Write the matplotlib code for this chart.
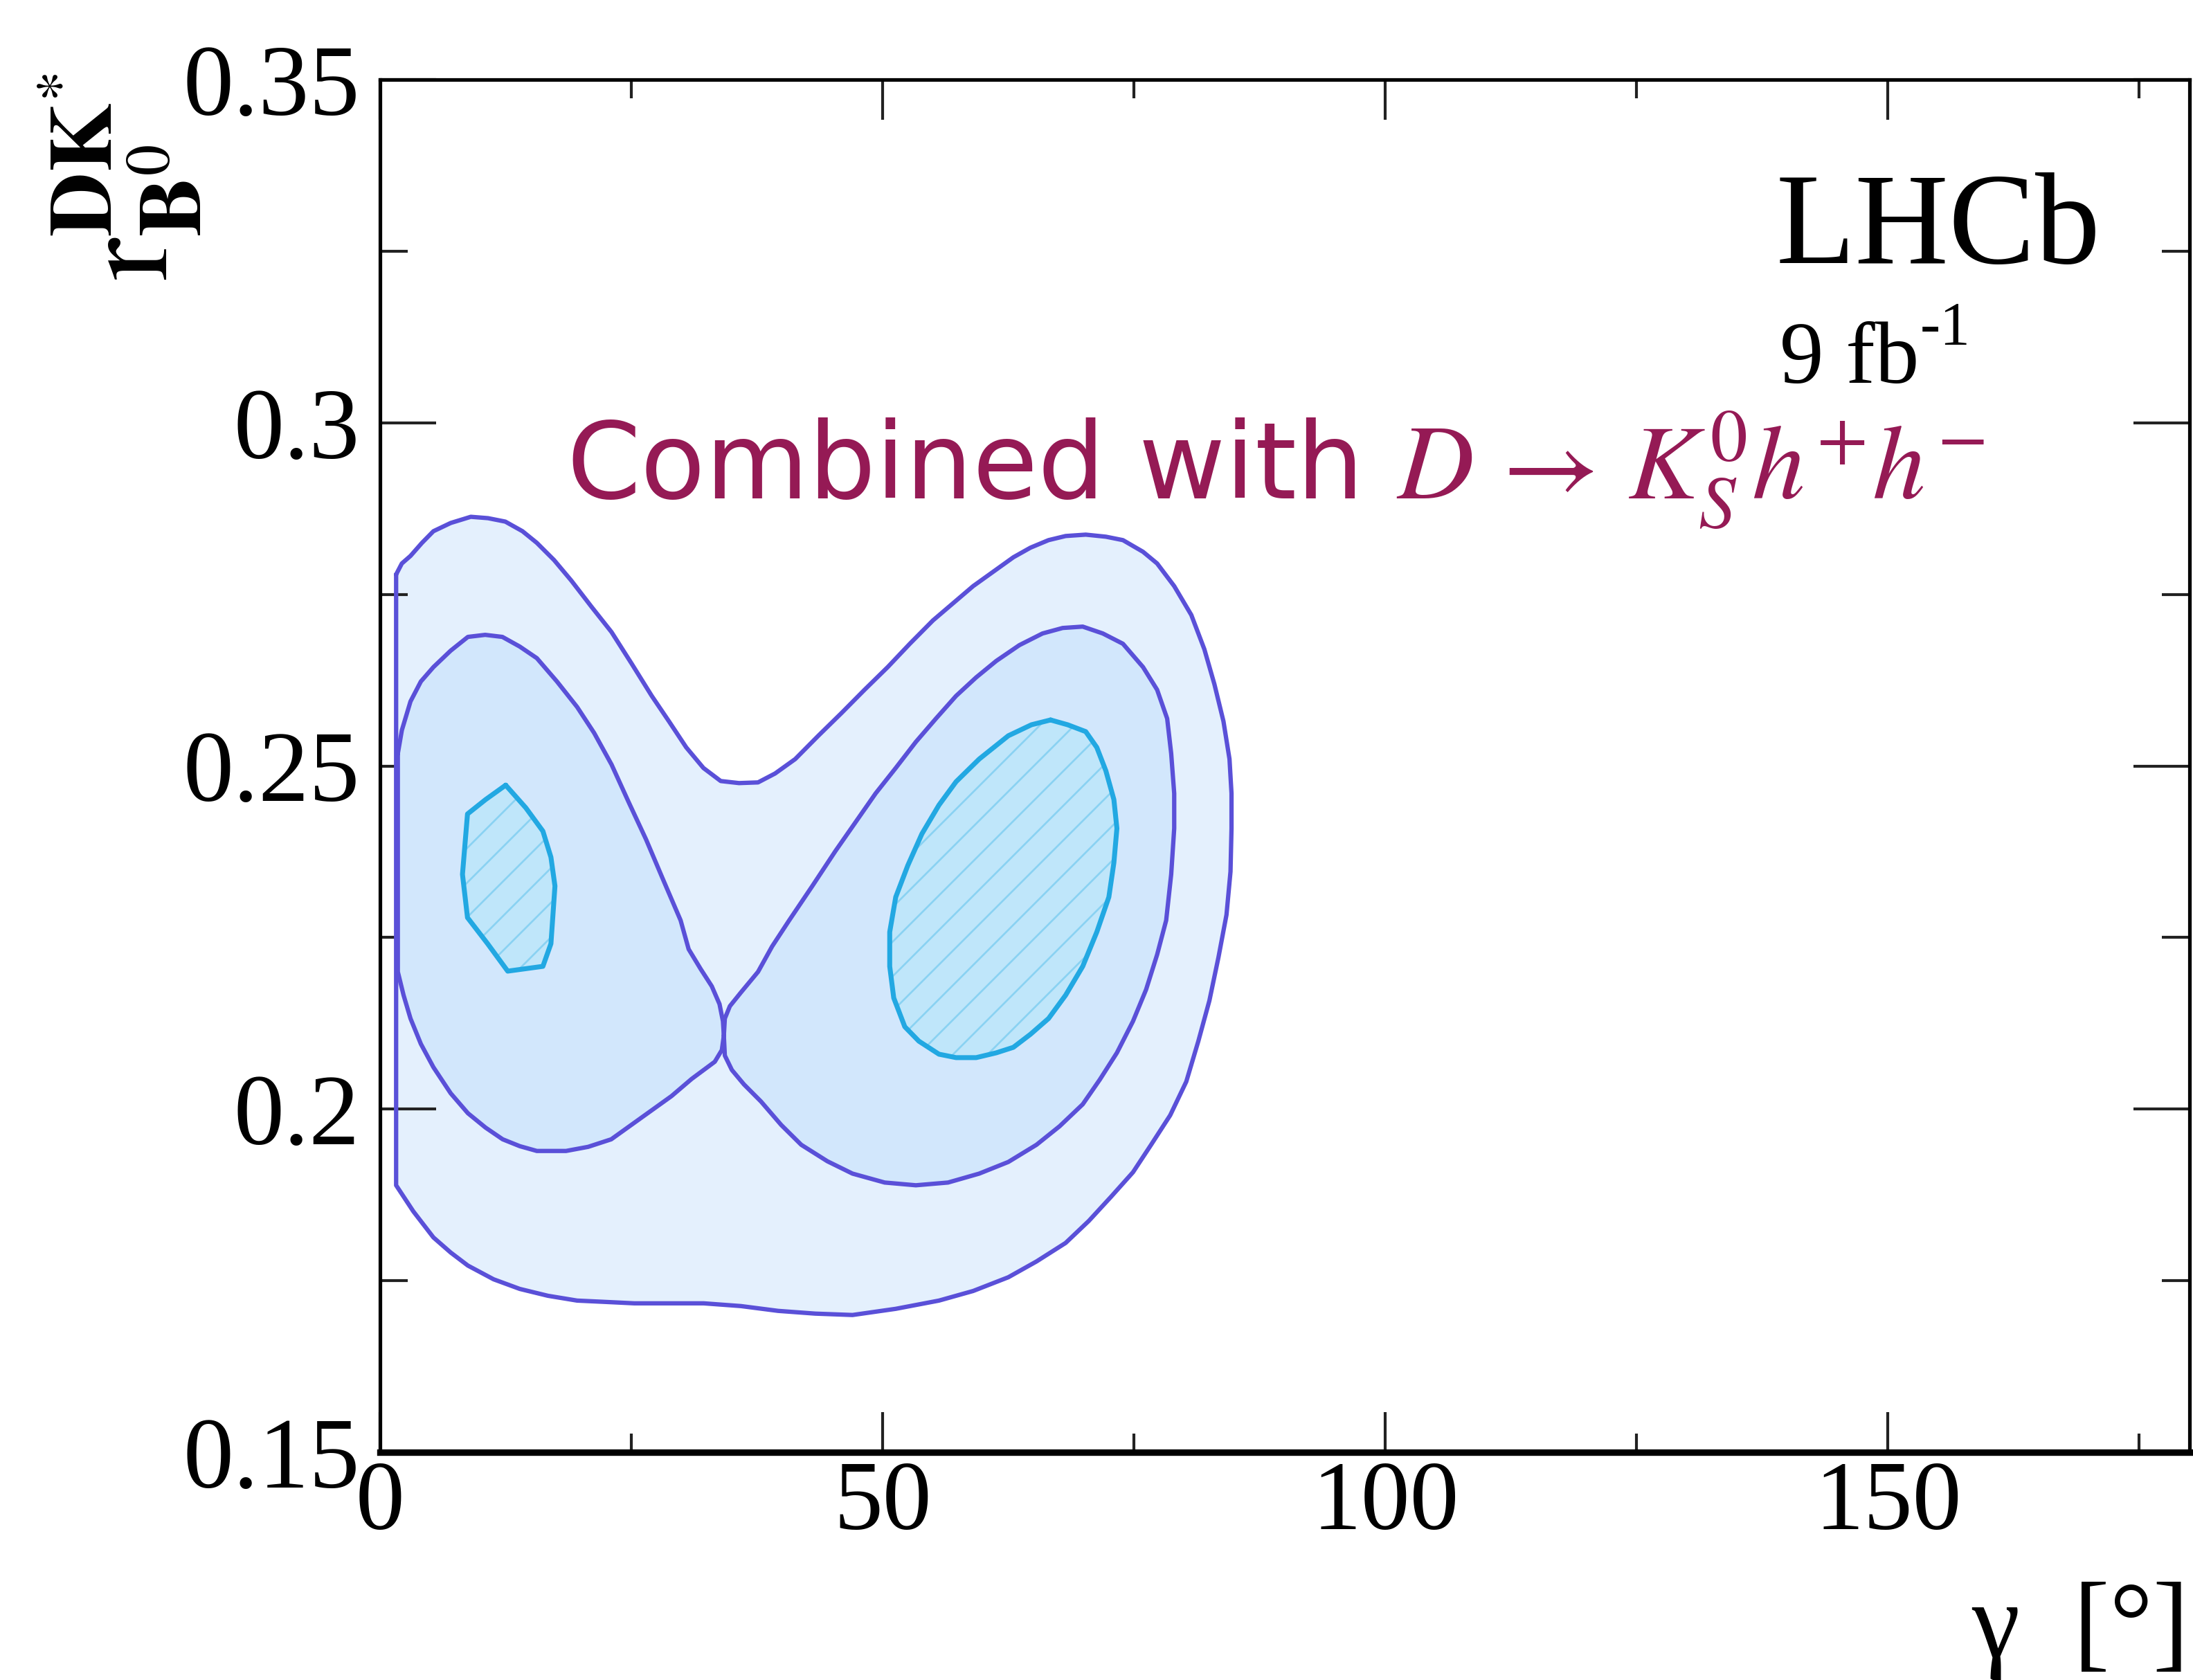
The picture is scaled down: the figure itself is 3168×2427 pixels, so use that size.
import matplotlib
matplotlib.use("Agg")
import matplotlib.pyplot as plt
from matplotlib.ticker import MultipleLocator

plt.rcParams["mathtext.fontset"] = "stix"
plt.rcParams["hatch.linewidth"] = 1.3

# ---- contour boundaries: (gamma [deg], r_B0^DK*) ----
outer_gamma = [1.60, 2.17, 3.03, 4.17, 5.31, 7.03, 9.03, 10.74, 12.46, 14.17, 15.6, 17.31,
               19.03, 21.03, 23.03, 25.03, 27.03, 28.74, 30.46, 32.17, 33.89, 35.71, 37.6,
               39.3, 41.3, 43.6, 45.9, 48.2, 50.5, 52.7, 55.0, 57.0, 59.0, 61.0, 63.0, 64.7,
               66.5, 68.2, 70.2, 72.2, 73.9, 75.9, 77.3, 79.0, 80.7, 82.0, 83.0, 83.9, 84.5,
               84.7, 84.7, 84.6, 84.2, 83.4, 82.5, 81.4, 80.2, 78.6, 76.7, 74.9, 72.7, 70.5,
               68.2, 65.3, 62.5, 59.0, 55.6, 51.3, 47.0, 43.3, 39.6, 35.9, 32.2, 28.7, 25.3,
               22.5, 19.6, 16.7, 13.9, 11.3, 8.74, 7.03, 5.31, 3.31, 1.60]
outer_r = [0.2779, 0.2795, 0.2806, 0.2825, 0.2842, 0.2854, 0.2863, 0.2861, 0.2856, 0.2842,
           0.2825, 0.2800, 0.2770, 0.2732, 0.2695, 0.2649, 0.2602, 0.2565, 0.2527, 0.2497,
           0.2478, 0.2475, 0.2476, 0.2489, 0.2510, 0.2544, 0.2577, 0.2611, 0.2644, 0.2678,
           0.2712, 0.2737, 0.2762, 0.2783, 0.2804, 0.2818, 0.2829, 0.2835, 0.2837, 0.2834,
           0.2829, 0.2812, 0.2795, 0.2762, 0.2720, 0.2670, 0.2619, 0.2565, 0.2510, 0.2460,
           0.2409, 0.2346, 0.2283, 0.2221, 0.2158, 0.2099, 0.2040, 0.1991, 0.1948, 0.1908,
           0.1872, 0.1837, 0.1805, 0.1778, 0.1755, 0.1735, 0.1721, 0.1709, 0.1700, 0.1702,
           0.1706, 0.1713, 0.1717, 0.1717, 0.1717, 0.1719, 0.1721, 0.1728, 0.1738, 0.1752,
           0.1772, 0.1791, 0.1813, 0.1851, 0.1889]

# middle region: two lobes touching near gamma ~ 34 deg
mid_left_gamma = [1.77, 2.17, 3.03, 4.06, 5.31, 7.03, 8.74, 10.46, 12.17, 13.89, 15.6, 17.6,
                  19.6, 21.3, 23.03, 24.74, 26.46, 28.17, 29.9, 30.7, 31.9, 33.0, 33.77,
                  34.11, 34.2, 34.0, 33.3, 31.0, 29.0, 27.0, 25.0, 23.0, 20.7, 18.5, 15.6,
                  13.9, 12.2, 10.5, 8.74, 7.03, 5.31, 4.06, 3.03, 2.34, 1.77]
mid_left_r = [0.2518, 0.2552, 0.2594, 0.2623, 0.2644, 0.2668, 0.2688, 0.2691, 0.2688, 0.2674,
              0.2657, 0.2623, 0.2586, 0.2548, 0.2502, 0.2447, 0.2393, 0.2334, 0.2275, 0.2233,
              0.2204, 0.2179, 0.2153, 0.2128, 0.2107, 0.2086, 0.2069, 0.2044, 0.2019, 0.1998,
              0.1977, 0.1956, 0.1945, 0.1939, 0.1939, 0.1946, 0.1956, 0.1973, 0.1994, 0.2023,
              0.2061, 0.2095, 0.2132, 0.2166, 0.2200]

mid_right_gamma = [34.2, 34.3, 34.8, 35.9, 37.6, 39.0, 40.7, 43.0, 45.3, 47.3, 49.3, 51.3,
                   53.3, 55.3, 57.3, 59.3, 61.3, 63.6, 65.9, 67.9, 69.9, 71.9, 73.9, 75.9,
                   77.3, 78.3, 78.7, 79.0, 79.0, 78.7, 78.2, 77.3, 76.2, 74.9, 73.3, 71.6,
                   69.9, 67.6, 65.3, 62.5, 59.6, 56.5, 53.3, 50.2, 47.0, 44.5, 41.9, 39.9,
                   37.9, 36.2, 35.0, 34.3]
mid_right_r = [0.2107, 0.2132, 0.2150, 0.2170, 0.2200, 0.2237, 0.2275, 0.2325, 0.2376,
               0.2418, 0.2460, 0.2497, 0.2535, 0.2569, 0.2602, 0.2629, 0.2653, 0.2676,
               0.2693, 0.2701, 0.2703, 0.2693, 0.2678, 0.2644, 0.2611, 0.2569, 0.2518,
               0.2460, 0.2409, 0.2342, 0.2275, 0.2225, 0.2174, 0.2128, 0.2082, 0.2043,
               0.2007, 0.1975, 0.1948, 0.1923, 0.1906, 0.1893, 0.1889, 0.1893, 0.1906,
               0.1924, 0.1948, 0.1977, 0.2011, 0.2036, 0.2057, 0.2078]

inner_left_gamma = [12.5, 14.5, 16.2, 17.0, 17.4, 17.0, 16.2, 12.7, 10.7, 8.7, 8.2, 8.7, 10.5]
inner_left_r = [0.2472, 0.2439, 0.2405, 0.2367, 0.2325, 0.2241, 0.2208, 0.2201, 0.2241,
                0.2279, 0.2342, 0.2430, 0.2451]

inner_right_gamma = [66.7, 68.4, 70.2, 71.3, 72.2, 73.0, 73.3, 73.0, 72.5, 71.3, 69.9, 68.2,
                     66.5, 64.7, 63.0, 61.3, 59.3, 57.3, 55.6, 53.6, 52.2, 51.1, 50.7, 50.7,
                     51.3, 52.5, 53.9, 55.6, 57.3, 59.6, 62.5, 64.8]
inner_right_r = [0.2567, 0.2560, 0.2550, 0.2527, 0.2493, 0.2451, 0.2409, 0.2359, 0.2309,
                 0.2258, 0.2208, 0.2166, 0.2132, 0.2109, 0.2090, 0.2082, 0.2075, 0.2075,
                 0.2080, 0.2099, 0.2120, 0.2162, 0.2208, 0.2258, 0.2309, 0.2355, 0.2401,
                 0.2443, 0.2477, 0.2510, 0.2544, 0.2560]

x_ticks = [0, 50, 100, 150]
x_tick_labels = ["0", "50", "100", "150"]
y_ticks = [0.15, 0.20, 0.25, 0.30, 0.35]
y_tick_labels = ["0.15", "0.2", "0.25", "0.3", "0.35"]

# ---- styling ----
outer_fill = "#e4f0fd"
mid_fill = "#d2e7fc"
inner_fill = "#bfe6fa"
hatch_col = "#8ad2f2"
line_col = "#5a50d8"
inner_line = "#22a8e2"
title_col = "#951a55"

W, H, DPI = 3168, 2427, 150
fig = plt.figure(figsize=(W / DPI, H / DPI), dpi=DPI)
L, R, T, B = 549, 3163, 115, 2098
ax = fig.add_axes([L / W, 1 - B / H, (R - L) / W, (B - T) / H])

def closed(xs, ys):
    return list(xs) + [xs[0]], list(ys) + [ys[0]]

line_kw = dict(solid_joinstyle="round", solid_capstyle="round")

# outer region
ax.fill(outer_gamma, outer_r, facecolor=outer_fill, edgecolor="none", zorder=1)
ax.plot(*closed(outer_gamma, outer_r), color=line_col, lw=3.0, zorder=2, **line_kw)
# middle region (two lobes)
for gx, ry in ((mid_left_gamma, mid_left_r), (mid_right_gamma, mid_right_r)):
    ax.fill(gx, ry, facecolor=mid_fill, edgecolor="none", zorder=3)
for gx, ry in ((mid_left_gamma, mid_left_r), (mid_right_gamma, mid_right_r)):
    ax.plot(*closed(gx, ry), color=line_col, lw=3.0, zorder=4, **line_kw)
# inner regions, hatched
for gx, ry in ((inner_left_gamma, inner_left_r), (inner_right_gamma, inner_right_r)):
    ax.fill(gx, ry, facecolor=inner_fill, edgecolor=hatch_col, hatch="/", lw=0, zorder=5)
    ax.plot(*closed(gx, ry), color=inner_line, lw=3.4, zorder=6, **line_kw)

ax.set_xlim(0, 180)
ax.set_ylim(0.15, 0.35)

serif = "Liberation Serif"
ax.set_xticks(x_ticks)
ax.set_xticklabels(x_tick_labels, fontfamily=serif, fontsize=68)
ax.set_yticks(y_ticks)
ax.set_yticklabels(y_tick_labels, fontfamily=serif, fontsize=70)
ax.xaxis.set_minor_locator(MultipleLocator(25))
ax.yaxis.set_minor_locator(MultipleLocator(0.025))

ax.tick_params(which="both", direction="in", top=True, right=True, width=2.0, color="#222222")
ax.tick_params(axis="x", which="major", length=28, pad=6)
ax.tick_params(axis="x", which="minor", length=13)
ax.tick_params(axis="y", which="major", length=39, pad=14)
ax.tick_params(axis="y", which="minor", length=19)

ax.spines["left"].set_linewidth(2.5)
ax.spines["right"].set_linewidth(2.5)
ax.spines["top"].set_linewidth(2.5)
ax.spines["bottom"].set_linewidth(4.5)

# x-axis title
fig.text(3162 / W, 1 - 2394 / H, "\u03b3  [\u00b0]", ha="right", va="baseline",
         fontfamily=serif, fontsize=75)
# y-axis title, anchored at the start of the baseline of "r"
fig.text(242 / W, 1 - 405 / H, r"$\mathrm{r}_{\mathbf{B}^{0}}^{\mathbf{DK}^{*}}$",
         rotation=90, rotation_mode="anchor", ha="left", va="baseline", fontsize=88)

# labels
fig.text(2566 / W, 1 - 380 / H, "LHCb", ha="left", va="baseline", fontfamily=serif,
         fontsize=90)
fig.text(2571 / W, 1 - 553 / H, "9 fb", ha="left", va="baseline", fontfamily=serif,
         fontsize=61)
fig.text(2774 / W, 1 - 497 / H, "-1", ha="left", va="baseline", fontfamily=serif,
         fontsize=42)
fig.text(818 / W, 1 - 723 / H, r"Combined with $D\,\rightarrow\,K_S^0h^{+}h^{-}$",
         ha="left", va="baseline", fontfamily="DejaVu Sans", fontsize=73.5, color=title_col)

fig.savefig("out.png", dpi=DPI)
